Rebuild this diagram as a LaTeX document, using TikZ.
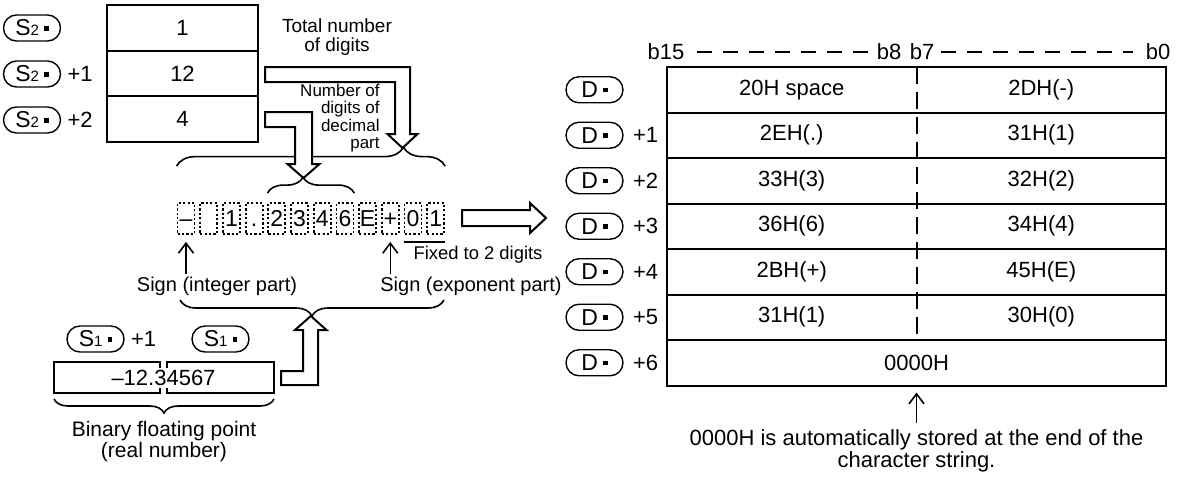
\documentclass[tikz,border=0pt]{standalone}
\usepackage{fontspec}
\setmainfont{Liberation Sans}
\usetikzlibrary{positioning, arrows.meta, decorations.pathreplacing}

\newcommand{\devlab}[2]{#1{\fontsize{7.5}{7.5}\selectfont #2}\hspace{2.5pt}\rule[2.6pt]{2.3pt}{2.3pt}}

\tikzset{
  dev/.style={draw, line width=0.7pt, rounded corners=6.5pt, minimum width=28.5pt,
              minimum height=13pt, inner sep=1pt, font=\fontsize{11.5}{11.5}\selectfont},
  plus/.style={inner sep=0pt, font=\fontsize{11}{11}\selectfont},
  cell/.style={draw, line width=1pt, outer sep=0pt, minimum height=22.75pt,
               inner sep=0pt, font=\fontsize{11}{11}\selectfont},
  txt/.style={inner sep=0pt, font=\fontsize{11}{11}\selectfont},
  digit/.style={draw, line width=0.9pt, dash pattern=on 1.1pt off 1.1pt, minimum width=8.5pt,
                minimum height=15.5pt, inner sep=0pt, text height=8pt, text depth=0pt,
                font=\fontsize{11.5}{11.5}\selectfont},
  note/.style={inner sep=1pt, align=center, font=\fontsize{10}{10}\selectfont},
  hollow/.style={draw, fill=white, line width=1pt, line join=miter},
  curly/.style={draw, decorate, line width=0.8pt},
  thinarrow/.style={line width=0.8pt, -{Straight Barb[length=5pt, width=7.5pt]}},
  bitdash/.style={line width=0.7pt, dash pattern=on 7.5pt off 5.5pt},
  middash/.style={line width=1pt, dash pattern=on 8.5pt off 4pt},
}

\begin{document}
\begin{tikzpicture}[x=0.5pt, y=-0.5pt]
  \useasboundingbox (0,0) rectangle (1186,478);

  % S2 table
  \node[cell, minimum width=75.5pt] (s2a) at (182.5,28) {1};
  \node[cell, minimum width=75.5pt, below=0pt of s2a] (s2b) {12};
  \node[cell, minimum width=75.5pt, below=0pt of s2b] (s2c) {4};
  \node[dev] (s2la) at (32,28) {\devlab{S}{2}};
  \node[dev] (s2lb) at (32,74) {\devlab{S}{2}};
  \node[dev] (s2lc) at (32,120) {\devlab{S}{2}};
  \node[plus, right=3pt of s2lb] (s2pb) {+1};
  \node[plus, right=3pt of s2lc] (s2pc) {+2};

  \node[note, font=\fontsize{9.5}{9.5}\selectfont] (total) at (337,37) {Total number\\of digits};
  \node[note, align=right, anchor=east, font=\fontsize{8.5}{8.8}\selectfont] (decpart) at (382,118)
    {Number of\\digits of\\decimal\\part};

  % character string
  \foreach \c [count=\i] in {{--},{},1,{.},2,3,4,6,E,+,0,1}
    \node[digit] (d\i) at ({163.3+22.7*\i},218.5) {\c};

  \draw[curly, decoration={brace, amplitude=9.5pt, aspect=0.845}]
    ([yshift=18pt]d1.north west) -- ([yshift=18pt]d12.north east);
  \draw[curly, decoration={brace, amplitude=8pt, aspect=0.41}]
    ([yshift=4.5pt]d5.north west) -- ([yshift=4.5pt]d8.north east);

  \draw[line width=0.9pt] ([yshift=-3.5pt]d11.south west) -- ([yshift=-3.5pt]d12.south east);
  \node[note, font=\fontsize{9.2}{9.2}\selectfont] (fixed) at (478,255) {Fixed to 2 digits};

  \node[note] (signint) at (217,286) {Sign (integer part)};
  \node[note] (signexp) at (471,286) {Sign (exponent part)};
  \draw[thinarrow] (signint.north -| d1) -- ([yshift=-3.5pt]d1.south);
  \draw[thinarrow] (signexp.north -| d10) -- ([yshift=-3.5pt]d10.south);

  \coordinate (br3l) at (180,300);
  \coordinate (br3r) at (444,300);
  \draw[curly, decoration={brace, amplitude=8pt, mirror}] (br3l) -- (br3r);

  % S1 value
  \node[cell, minimum width=53pt, minimum height=15.5pt] (s1l) at (107,377.5) {};
  \node[cell, minimum width=53.5pt, minimum height=15.5pt] (s1r) at (220.5,377.5) {};
  \node[txt, fill=white, inner sep=1pt] (s1v) at (163.5,378) {--12.34567};
  \node[dev] (s1la) at (95.5,339) {\devlab{S}{1}};
  \node[plus, right=3pt of s1la] (s1pa) {+1};
  \node[dev] (s1lb) at (220.5,339) {\devlab{S}{1}};
  \draw[curly, decoration={brace, amplitude=7pt, mirror}]
    ([yshift=-3pt]s1l.south west) -- ([yshift=-3pt]s1r.south east);
  \node[note, font=\fontsize{10.5}{10.5}\selectfont] (binfp) at (164,442) {Binary floating point\\(real number)};

  % hollow arrows
  \draw[hollow] (265,67) -- (410,67) -- (410,134) -- (417.5,134) -- (402.5,148)
    -- (387.5,134) -- (395,134) -- (395,82) -- (265,82) -- cycle;
  \draw[hollow] (265,112) -- (312,112) -- (312,164) -- (319.5,164) -- (303.5,178)
    -- (287.5,164) -- (295,164) -- (295,127) -- (265,127) -- cycle;
  \draw[hollow] (281,371) -- (303,371) -- (303,330) -- (295,330) -- (310.8,316)
    -- (326.5,330) -- (318,330) -- (318,385) -- (281,385) -- cycle;
  \draw[hollow] (462,210) -- (530,210) -- (530,203) -- (546,218) -- (530,233)
    -- (530,226) -- (462,226) -- cycle;

  % D table
  \foreach \l/\r [count=\i from 0] in {20H space/2DH(-), 2EH(.)/31H(1), 33H(3)/32H(2),
      36H(6)/34H(4), 2BH(+)/45H(E), 31H(1)/30H(0)}{
    \node[cell, minimum width=249.5pt] (row\i) at (916.5,{89.75+45.5*\i}) {};
    \node[txt] (lt\i) at ([xshift=-62.4pt]row\i.center) {\l};
    \node[txt] (rt\i) at ([xshift=62.4pt]row\i.center) {\r};
  }
  \node[cell, minimum width=249.5pt] (row6) at (916.5,362.75) {0000H};
  \foreach \i in {0,...,6}
    \node[dev] (dl\i) at (594.5,{89.75+45.5*\i}) {\devlab{D}{}};
  \foreach \i in {1,...,6}
    \node[plus, right=4.5pt of dl\i] (dp\i) {+\i};
  \draw[middash] (row0.north) -- (row5.south);

  \node[txt] (b15) at (666,52) {b15};
  \node[txt] (b8) at (889,52) {b8};
  \node[txt] (b7) at (922,52) {b7};
  \node[txt] (b0) at (1158,52) {b0};
  \draw[bitdash, shorten <=6pt, shorten >=3pt] (b15.east) -- (b8.west);
  \draw[bitdash, shorten <=3pt, shorten >=6pt] (b7.east) -- (b0.west);

  \node[note, font=\fontsize{11}{11}\selectfont] (endnote) at (916.5,451)
    {0000H is automatically stored at the end of the\\character string.};
  \draw[thinarrow, shorten <=2pt] (endnote.north) -- ([yshift=-3.5pt]row6.south);
\end{tikzpicture}
\end{document}
